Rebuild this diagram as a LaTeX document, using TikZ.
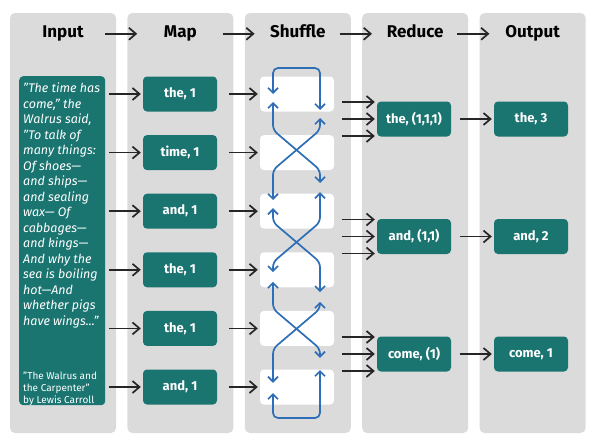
\documentclass[tikz,border=0pt]{standalone}
\usepackage{fontspec}
\setmainfont{Fira Sans}
\usepackage{tikz}
\usetikzlibrary{positioning,calc,arrows.meta}
\definecolor{panelgray}{RGB}{219,219,219}
\definecolor{boxteal}{RGB}{26,117,113}
\definecolor{swapblue}{RGB}{46,110,182}
\newcommand{\rowstep}{58.6}
\newcommand{\groupstep}{117.5}

\tikzset{
  panel/.style = {fill=panelgray, rounded corners=5pt, minimum width=106pt, minimum height=420pt, inner sep=0pt},
  heading/.style = {font=\fontsize{17}{20}\selectfont\bfseries, anchor=base},
  tealbox/.style = {fill=boxteal, text=white, rounded corners=4pt, minimum width=74pt, minimum height=35pt, inner sep=0pt, font=\fontsize{13}{15}\selectfont\bfseries},
  slot/.style = {fill=white, rounded corners=4pt, minimum width=74pt, minimum height=35pt},
  poem/.style = {text=white, align=left, inner xsep=4pt, inner ysep=7pt, font=\fontsize{12.5}{15.5}\selectfont\itshape},
  credit/.style = {text=white, align=left, inner xsep=4pt, inner ysep=0pt, font=\fontsize{10}{12}\selectfont},
  flow/.style = {-{Straight Barb[length=7pt, width=12pt]}, line width=1.7pt, black!85},
  swap/.style = {{Straight Barb[length=5pt, width=10pt]}-{Straight Barb[length=5pt, width=10pt]}, line width=1.7pt, swapblue, rounded corners=5pt}
}

\begin{document}
\begin{tikzpicture}[x=1pt, y=-1pt]
  \useasboundingbox (0, 0) rectangle (596, 442);

  \node [panel] (pInput) at (63, 223) {};
  \node [panel, right=11pt of pInput] (pMap) {};
  \node [panel, right=11pt of pMap] (pShuffle) {};
  \node [panel, right=11pt of pShuffle] (pReduce) {};
  \node [panel, right=11pt of pReduce] (pOutput) {};

  \foreach \p in {Input, Map, Shuffle, Reduce, Output}
    \node [heading] (h\p) at ([yshift=-25pt]p\p.north) {\p};

  \foreach \a/\b in {Input/Map, Map/Shuffle, Shuffle/Reduce, Reduce/Output}
    \draw [flow] ([xshift=-11pt, yshift=-21pt]p\a.north east) -- ([xshift=10pt, yshift=-21pt]p\b.north west);

  \node [fill=boxteal, rounded corners=4pt, minimum width=86pt, minimum height=329pt, anchor=north west] (txt) at (19, 76) {};
  \node [poem, anchor=north west] (verse) at (txt.north west)
    {"The time has\\ come," the\\ Walrus said,\\ "To talk of\\ many things:\\ Of shoes—\\ and ships—\\ and sealing\\ wax— Of\\ cabbages—\\ and kings—\\ And why the\\ sea is boiling\\ hot—And\\ whether pigs\\ have wings..."};
  \node [credit, anchor=south west] (source) at (txt.south west)
    {"The Walrus and\\ the Carpenter"\\ by Lewis Carroll};

  \foreach \lbl [count=\i] in {{the, 1}, {time, 1}, {and, 1}, {the, 1}, {the, 1}, {and, 1}} {
    \node [tealbox] (m\i) at (180, 35.4 + \rowstep * \i) {\lbl};
    \node [slot] (s\i) at (297, 35.4 + \rowstep * \i) {};
    \draw [flow, shorten <=4pt, shorten >=2pt] (txt.east |- m\i) -- (m\i);
    \draw [flow, shorten <=12pt, shorten >=2pt] (m\i) -- (s\i);
  }

  \draw [swap] ([xshift=-24pt]s1.center) -- ++(0, -26) -- ++(47, 0) -- ++(0, 42);
  \draw [swap] ([xshift=-24pt, yshift=-8pt]s1.center) -- ++(0, 28) -- ++(47, 40) -- ++(0, 13);
  \draw [swap] ([xshift=23pt, yshift=-24pt]s1.center) -- ++(0, 12) -- ++(-47, 40) -- ++(0, 30);
  \draw [swap] ([xshift=-24pt, yshift=3pt]s3.center) -- ++(0, 14) -- ++(47, 40) -- ++(0, 30);
  \draw [swap] ([xshift=23pt, yshift=19pt]s3.center) -- ++(0, 30) -- ++(-47, 40) -- ++(0, 10);
  \draw [swap] ([xshift=-24pt, yshift=-12pt]s4.center) -- ++(0, 27) -- ++(47, 40) -- ++(0, 9);
  \draw [swap] ([xshift=23pt, yshift=-32pt]s4.center) -- ++(0, 7) -- ++(-47, 40) -- ++(0, 34);
  \draw [swap] ([xshift=-24pt, yshift=-6pt]s6.center) -- ++(0, 25) -- ++(47, 0) -- ++(0, -48);

  \foreach \rlbl/\olbl [count=\k] in {{the, (1,1,1)}/{the, 3}, {and, (1,1)}/{and, 2}, {come, (1)}/{come, 1}} {
    \node [tealbox] (r\k) at (414, 1.5 + \groupstep * \k) {\rlbl};
    \node [tealbox] (o\k) at (531, 1.5 + \groupstep * \k) {\olbl};
    \foreach \d in {-17, 0, 17}
      \draw [flow] ([xshift=-35pt, yshift=\d pt]r\k.west) -- ([xshift=-2pt, yshift=\d pt]r\k.west);
    \draw [flow, shorten <=9pt, shorten >=2pt] (r\k) -- (o\k);
  }
\end{tikzpicture}
\end{document}
